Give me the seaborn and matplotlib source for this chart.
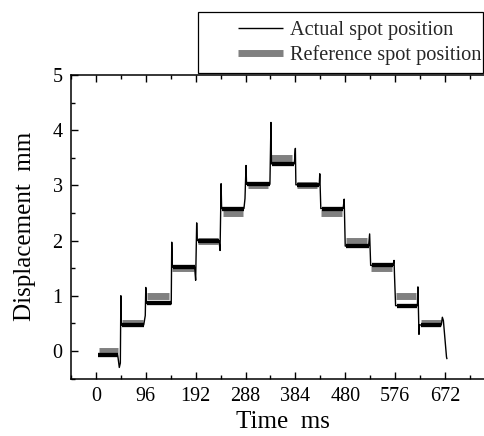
import numpy as np
import pandas as pd
import seaborn as sns
import matplotlib
matplotlib.use("Agg")
import matplotlib.pyplot as plt
from matplotlib.lines import Line2D
from matplotlib.patches import Rectangle

# ---------------- data ----------------
ref_levels = [0.0, 0.5, 1.0, 1.5, 2.0, 2.5, 3.0, 3.5, 3.0, 2.5, 2.0, 1.5, 1.0, 0.5]
ref_start = [6, 50, 98, 147, 196, 244, 292, 338, 388, 434, 482, 530, 578, 626]
ref_end = [42, 90, 140, 188, 236, 284, 332, 378, 426, 474, 522, 570, 616, 664]

act_levels = [-0.08, 0.47, 0.86, 1.52, 2.00, 2.58, 3.02, 3.39, 3.01, 2.58, 1.90, 1.55, 0.82, 0.47]
act_start = [4, 50, 98, 148, 196, 243, 291, 339, 387, 435, 482, 531, 579, 625]
act_end = [42, 92, 144, 190, 237, 285, 335, 382, 430, 476, 525, 572, 619, 665]

act_t = [4, 42, 45, 47, 48, 49,
         92, 95, 96, 97,
         144, 145, 146, 147,
         190, 192, 194, 195,
         237, 239, 241, 242,
         285, 287, 289, 290,
         335, 337, 338,
         382, 384, 385,
         430, 431, 433,
         476, 478, 480,
         525, 527, 529,
         572, 574, 575, 577,
         619, 620, 622, 623,
         665, 667, 669, 675, 676]
act_v = [-0.08, -0.08, -0.30, -0.22, 1.00, 0.47,
         0.47, 0.64, 1.15, 0.86,
         0.86, 0.85, 1.97, 1.52,
         1.52, 1.28, 2.32, 2.00,
         2.00, 1.82, 3.03, 2.58,
         2.58, 2.76, 3.36, 3.02,
         3.02, 4.14, 3.39,
         3.39, 3.67, 3.01,
         3.01, 3.21, 2.58,
         2.58, 2.75, 1.90,
         1.90, 2.12, 1.55,
         1.55, 1.64, 1.34, 0.82,
         0.82, 1.16, 0.30, 0.47,
         0.47, 0.61, 0.55, -0.11, -0.15]

x_ticks = [0, 96, 192, 288, 384, 480, 576, 672]
y_ticks = [0, 1, 2, 3, 4, 5]

# ---------------- tables ----------------
ref_df = pd.DataFrame({
    "t": [v for s, e in zip(ref_start, ref_end) for v in (s, e)],
    "v": [v for l in ref_levels for v in (l, l)],
    "seg": [i for i in range(len(ref_levels)) for _ in (0, 1)],
})
plat_df = pd.DataFrame({
    "t": [v for s, e in zip(act_start, act_end) for v in (s, e)],
    "v": [v for l in act_levels for v in (l, l)],
    "seg": [i for i in range(len(act_levels)) for _ in (0, 1)],
})
act_df = pd.DataFrame({"t": act_t, "v": act_v, "seg": 0})

# ---------------- style ----------------
sns.set_theme(style="ticks")
plt.rcParams["font.family"] = ["Liberation Serif", "DejaVu Serif"]
plt.rcParams["axes.linewidth"] = 1.1

W, H = 484, 436
fig = plt.figure(figsize=(W / 100, H / 100), dpi=100)
ax = fig.add_axes([71 / W, 1 - 378.5 / H, 423.8 / W, 303.5 / H])

sns.lineplot(data=ref_df, x="t", y="v", units="seg", estimator=None, sort=False,
             color="#808080", lw=5, solid_capstyle="butt", ax=ax, legend=False)
sns.lineplot(data=act_df, x="t", y="v", units="seg", estimator=None, sort=False,
             color="black", lw=1.0, solid_capstyle="butt", ax=ax, legend=False)
sns.lineplot(data=plat_df, x="t", y="v", units="seg", estimator=None, sort=False,
             color="black", lw=3.1, solid_capstyle="butt", ax=ax, legend=False)

ax.set_xlim(-48, 768)
ax.set_ylim(-0.5, 5)
ax.set_xticks(x_ticks)
ax.set_xticks(np.arange(-48, 769, 48), minor=True)
ax.set_yticks(y_ticks)
ax.set_yticks(np.arange(-0.5, 5.01, 0.5), minor=True)
ax.tick_params(which="both", direction="in", top=True, right=True, colors="black")
ax.tick_params(which="major", length=5, width=1.0, labelsize=14.5, pad=6)
ax.tick_params(which="minor", length=3, width=1.0)
for s in ax.spines.values():
    s.set_color("black")

ax.set_xlabel("Time  ms", fontsize=18, labelpad=4, color="black")
ax.set_ylabel("Displacement  mm", fontsize=18, labelpad=12, color="black")

# legend
handles = [Line2D([], [], color="black", lw=1.0, solid_capstyle="butt"),
           Line2D([], [], color="#808080", lw=5, solid_capstyle="butt")]
labels = ["Actual spot position", "Reference spot position"]
leg = fig.legend(handles, labels, loc="upper left",
                 bbox_to_anchor=(238 / W, 1 - 21 / H), frameon=False,
                 fontsize=14.6, handlelength=2.2, handletextpad=0.35,
                 labelspacing=0.25, borderpad=0, borderaxespad=0)
fig.add_artist(Rectangle((198 / W, 1 - 73 / H), (483 - 198) / W, 61 / H,
                         transform=fig.transFigure, fill=False,
                         edgecolor="black", lw=0.9))

fig.savefig("out.png", dpi=100)
